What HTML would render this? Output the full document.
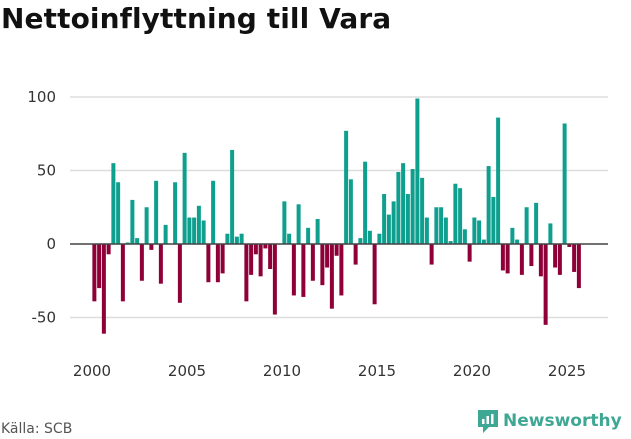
<!DOCTYPE html>
<html><head><meta charset="utf-8"><style>
body{margin:0;width:631px;height:439px;background:#fff;font-family:"DejaVu Sans","Liberation Sans",sans-serif;overflow:hidden;position:relative}
</style></head><body>
<div style="position:absolute;left:1px;top:2px;font-size:28px;font-weight:bold;color:#111;letter-spacing:0.1px">Nettoinflyttning till Vara</div>
<svg id="chart" width="631" height="439" style="position:absolute;left:0;top:0;font-family:'DejaVu Sans',sans-serif"></svg>
<div style="position:absolute;left:1px;top:421px;font-size:14px;color:#555">Källa: SCB</div>
<div style="position:absolute;left:476px;top:408px;display:flex;align-items:center">
<svg width="24" height="26"><path d="M2 2h20v17h-9l-6 6v-6H2z" fill="#3fa894"/><rect x="6" y="11" width="2.5" height="5" fill="#fff"/><rect x="10.5" y="8" width="2.5" height="8" fill="#fff"/><rect x="15" y="6" width="2.5" height="10" fill="#fff"/></svg>
<span style="font-size:17px;font-weight:bold;color:#3fa894;margin-left:3px">Newsworthy</span></div>
<script>
const values = [-39,-30,-61,-7,55,42,-39,1,30,4,-25,25,-4,43,-27,13,0,42,-40,62,18,18,26,16,-26,43,-26,-20,7,64,5,7,-39,-21,-7,-22,
-3,-17,-48,0,29,7,-35,27,-36,11,-25,17,-28,-16,-44,-8,-35,77,44,-14,4,56,9,-41,7,34,20,29,49,55,34,51,99,45,18,-14,
25,25,18,2,41,38,10,-12,18,16,3,53,32,86,-18,-20,11,3,-21,25,-15,28,-22,-55,14,-16,-21,82,-2,-19,-30];
const startYear = 2000;
const yTicks = [100,50,0,-50];
const xTicks = [2000,2005,2010,2015,2020,2025];
const svg = document.getElementById('chart');
const NS = 'http://www.w3.org/2000/svg';
function y(v){return 244 - v*1.47;}
function xYear(t){return 92 + (t-2000)*19;}
function mk(tag, attrs){const e=document.createElementNS(NS,tag);for(const k in attrs)e.setAttribute(k,attrs[k]);svg.appendChild(e);return e;}
yTicks.forEach(t=>{
  if(t!==0){const g=mk('line',{x1:70,x2:608,y1:y(t),y2:y(t),stroke:'#ddd','stroke-width':1.5});
  
  }
  const l=mk('text',{x:56,y:y(t)+5,'text-anchor':'end','font-size':15,fill:'#333'});
  
  
  l.textContent=t;
});
xTicks.forEach(t=>{
  const l=mk('text',{x:xYear(t),y:376,'text-anchor':'middle','font-size':15,fill:'#333'});
  
  
  l.textContent=t;
});
values.forEach((v,i)=>{
  const cx = xYear(startYear + i/4 + 0.125);
  const r=mk('rect',{x:cx-2,width:4,y:Math.min(y(v),y(0)),height:Math.abs(y(v)-y(0)),fill:v>=0?'#0e9f8e':'#8e0037'});
  
  
});
const z=mk('line',{x1:70,x2:608,y1:y(0),y2:y(0),stroke:'#444','stroke-width':1.5});


</script>
</body></html>
